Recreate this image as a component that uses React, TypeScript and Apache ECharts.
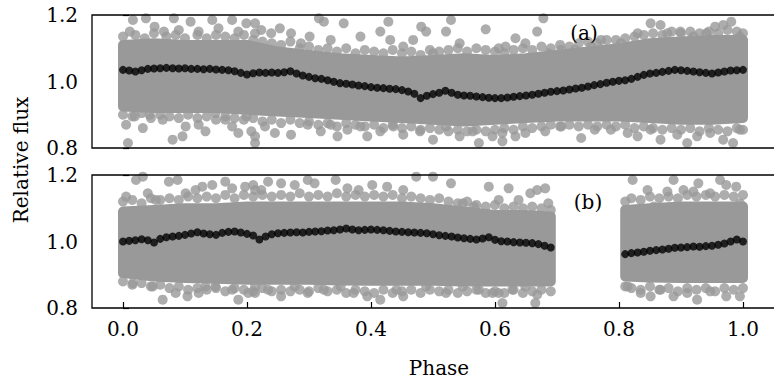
import React, { useEffect, useRef } from "react";
import * as echarts from "echarts";

// ---------- data ----------
// binned light curve, panel (a): phase 0.00 .. 1.00 step 0.01
const topBinStart = 0.0;
const topBinFlux = [
  1.035, 1.033, 1.030, 1.034, 1.038, 1.039, 1.040, 1.041, 1.040, 1.039,
  1.040, 1.038, 1.038, 1.037, 1.038, 1.036, 1.035, 1.034, 1.031, 1.026,
  1.021, 1.025, 1.027, 1.026, 1.027, 1.026, 1.028, 1.031, 1.024, 1.018,
  1.014, 1.010, 1.008, 1.004, 0.999, 0.995, 0.993, 0.991, 0.988, 0.986,
  0.983, 0.981, 0.980, 0.978, 0.977, 0.974, 0.970, 0.963, 0.950, 0.957,
  0.962, 0.966, 0.972, 0.966, 0.960, 0.958, 0.957, 0.955, 0.953, 0.951,
  0.950, 0.950, 0.952, 0.954, 0.956, 0.958, 0.960, 0.963, 0.966, 0.969,
  0.971, 0.973, 0.976, 0.979, 0.981, 0.985, 0.989, 0.992, 0.996, 0.999,
  1.002, 1.004, 1.008, 1.014, 1.020, 1.024, 1.026, 1.029, 1.032, 1.035,
  1.034, 1.032, 1.030, 1.028, 1.026, 1.024, 1.027, 1.030, 1.033, 1.034,
  1.035,
];
// binned light curve, panel (b): two phase ranges, step 0.01
const botBinStartA = 0.0;
const botBinFluxA = [
  1.000, 1.002, 1.004, 1.007, 1.004, 0.997, 1.008, 1.013, 1.015, 1.017,
  1.020, 1.024, 1.028, 1.024, 1.022, 1.020, 1.026, 1.029, 1.030, 1.027,
  1.023, 1.018, 1.006, 1.015, 1.022, 1.025, 1.026, 1.027, 1.028, 1.027,
  1.029, 1.030, 1.031, 1.033, 1.034, 1.036, 1.039, 1.036, 1.034, 1.035,
  1.036, 1.035, 1.034, 1.032, 1.030, 1.029, 1.028, 1.027, 1.026, 1.025,
  1.022, 1.019, 1.017, 1.015, 1.012, 1.010, 1.008, 1.006, 1.009, 1.013,
  1.005, 1.001, 1.000, 0.998, 0.997, 0.996, 0.995, 0.992, 0.987, 0.982,
];
const botBinStartB = 0.81;
const botBinFluxB = [
  0.962, 0.965, 0.967, 0.969, 0.972, 0.974, 0.976, 0.978, 0.981, 0.982,
  0.983, 0.985, 0.984, 0.986, 0.987, 0.990, 0.994, 1.000, 1.006, 1.000,
];
const binStep = 0.01;

// dense core of the unbinned points (envelope of point centres)
const topBandPhase = [0, 0.05, 0.1, 0.15, 0.2, 0.25, 0.3, 0.35, 0.4, 0.45, 0.5, 0.55, 0.6, 0.65, 0.7, 0.75, 0.8, 0.85, 0.9, 0.95, 1.0];
const topBandUpper = [1.11, 1.115, 1.11, 1.11, 1.11, 1.09, 1.08, 1.07, 1.065, 1.06, 1.065, 1.07, 1.065, 1.07, 1.08, 1.09, 1.1, 1.115, 1.12, 1.125, 1.125];
const topBandLower = [0.925, 0.92, 0.92, 0.92, 0.915, 0.91, 0.905, 0.9, 0.895, 0.89, 0.885, 0.88, 0.885, 0.89, 0.895, 0.895, 0.895, 0.89, 0.885, 0.885, 0.89];
const botBandPhaseA = [0, 0.05, 0.1, 0.15, 0.2, 0.25, 0.3, 0.35, 0.4, 0.45, 0.5, 0.55, 0.6, 0.65, 0.69];
const botBandUpperA = [1.09, 1.095, 1.1, 1.1, 1.105, 1.105, 1.105, 1.105, 1.105, 1.105, 1.1, 1.09, 1.08, 1.08, 1.075];
const botBandLowerA = [0.905, 0.895, 0.89, 0.888, 0.885, 0.885, 0.885, 0.883, 0.882, 0.882, 0.882, 0.88, 0.88, 0.88, 0.88];
const botBandPhaseB = [0.81, 0.85, 0.9, 0.95, 1.0];
const botBandUpperB = [1.095, 1.1, 1.105, 1.105, 1.105];
const botBandLowerB = [0.895, 0.892, 0.89, 0.89, 0.89];

// points on the ragged fringe of the dense core [phase, flux]
const topFringe = [
  [0.0, 1.135], [0.02, 1.14], [0.035, 1.13], [0.05, 1.145], [0.07, 1.135], [0.085, 1.14], [0.1, 1.13], [0.12, 1.14],
  [0.135, 1.13], [0.15, 1.14], [0.165, 1.135], [0.18, 1.13], [0.195, 1.14], [0.21, 1.125], [0.225, 1.12], [0.24, 1.115],
  [0.255, 1.11], [0.27, 1.12], [0.285, 1.1], [0.3, 1.105], [0.315, 1.095], [0.33, 1.1], [0.345, 1.09], [0.36, 1.1],
  [0.375, 1.085], [0.39, 1.095], [0.405, 1.09], [0.42, 1.085], [0.435, 1.095], [0.45, 1.085], [0.465, 1.09], [0.48, 1.08],
  [0.495, 1.095], [0.51, 1.09], [0.525, 1.095], [0.54, 1.1], [0.555, 1.09], [0.57, 1.1], [0.585, 1.095], [0.6, 1.09],
  [0.615, 1.085], [0.63, 1.095], [0.645, 1.1], [0.66, 1.095], [0.675, 1.105], [0.69, 1.1], [0.705, 1.11], [0.72, 1.105],
  [0.735, 1.115], [0.75, 1.12], [0.765, 1.115], [0.78, 1.125], [0.795, 1.125], [0.81, 1.13], [0.825, 1.135], [0.84, 1.14],
  [0.855, 1.145], [0.87, 1.14], [0.885, 1.15], [0.9, 1.145], [0.915, 1.15], [0.93, 1.145], [0.945, 1.15], [0.96, 1.145],
  [0.975, 1.155], [0.99, 1.15], [1.0, 1.145],
  [0.0, 0.9], [0.015, 0.895], [0.03, 0.905], [0.045, 0.89], [0.06, 0.9], [0.075, 0.895], [0.09, 0.89], [0.105, 0.9],
  [0.12, 0.89], [0.135, 0.895], [0.15, 0.885], [0.165, 0.895], [0.18, 0.89], [0.195, 0.885], [0.21, 0.89], [0.225, 0.88],
  [0.24, 0.885], [0.255, 0.875], [0.27, 0.885], [0.285, 0.875], [0.3, 0.88], [0.315, 0.87], [0.33, 0.875], [0.345, 0.865],
  [0.36, 0.875], [0.375, 0.87], [0.39, 0.865], [0.405, 0.87], [0.42, 0.86], [0.435, 0.87], [0.45, 0.86], [0.465, 0.865],
  [0.48, 0.855], [0.495, 0.86], [0.51, 0.855], [0.525, 0.85], [0.54, 0.855], [0.555, 0.85], [0.57, 0.855], [0.585, 0.85],
  [0.6, 0.855], [0.615, 0.86], [0.63, 0.855], [0.645, 0.865], [0.66, 0.86], [0.675, 0.865], [0.69, 0.87], [0.705, 0.865],
  [0.72, 0.87], [0.735, 0.865], [0.75, 0.87], [0.765, 0.865], [0.78, 0.87], [0.795, 0.865], [0.81, 0.87], [0.825, 0.86],
  [0.84, 0.865], [0.855, 0.86], [0.87, 0.855], [0.885, 0.86], [0.9, 0.855], [0.915, 0.86], [0.93, 0.85], [0.945, 0.86],
  [0.96, 0.855], [0.975, 0.85], [0.99, 0.86], [1.0, 0.855],
];
const bottomFringe = [
  [0.0, 1.12], [0.015, 1.125], [0.03, 1.115], [0.045, 1.13], [0.06, 1.125], [0.075, 1.13], [0.09, 1.125], [0.105, 1.135],
  [0.12, 1.13], [0.135, 1.135], [0.15, 1.13], [0.165, 1.14], [0.18, 1.13], [0.195, 1.14], [0.21, 1.135], [0.225, 1.14],
  [0.24, 1.135], [0.255, 1.14], [0.27, 1.135], [0.285, 1.145], [0.3, 1.135], [0.315, 1.14], [0.33, 1.135], [0.345, 1.145],
  [0.36, 1.135], [0.375, 1.14], [0.39, 1.135], [0.405, 1.14], [0.42, 1.135], [0.435, 1.14], [0.45, 1.13], [0.465, 1.135],
  [0.48, 1.13], [0.495, 1.125], [0.51, 1.13], [0.525, 1.12], [0.54, 1.115], [0.555, 1.12], [0.57, 1.11], [0.585, 1.105],
  [0.6, 1.11], [0.615, 1.1], [0.63, 1.105], [0.645, 1.1], [0.66, 1.105], [0.675, 1.1], [0.69, 1.095],
  [0.0, 0.88], [0.015, 0.87], [0.03, 0.875], [0.045, 0.865], [0.06, 0.87], [0.075, 0.86], [0.09, 0.865], [0.105, 0.855],
  [0.12, 0.86], [0.135, 0.855], [0.15, 0.86], [0.165, 0.85], [0.18, 0.86], [0.195, 0.855], [0.21, 0.85], [0.225, 0.86],
  [0.24, 0.85], [0.255, 0.855], [0.27, 0.85], [0.285, 0.855], [0.3, 0.85], [0.315, 0.86], [0.33, 0.85], [0.345, 0.855],
  [0.36, 0.845], [0.375, 0.855], [0.39, 0.85], [0.405, 0.845], [0.42, 0.855], [0.435, 0.845], [0.45, 0.85], [0.465, 0.855],
  [0.48, 0.845], [0.495, 0.855], [0.51, 0.85], [0.525, 0.855], [0.54, 0.845], [0.555, 0.85], [0.57, 0.855], [0.585, 0.845],
  [0.6, 0.85], [0.615, 0.845], [0.63, 0.855], [0.645, 0.845], [0.66, 0.85], [0.675, 0.855], [0.69, 0.85],
  [0.81, 1.12], [0.82, 1.13], [0.835, 1.125], [0.85, 1.135], [0.865, 1.13], [0.88, 1.135], [0.895, 1.13], [0.91, 1.14],
  [0.925, 1.135], [0.94, 1.14], [0.955, 1.135], [0.97, 1.14], [0.985, 1.135], [1.0, 1.14],
  [0.81, 0.865], [0.82, 0.86], [0.835, 0.855], [0.85, 0.865], [0.865, 0.855], [0.88, 0.86], [0.895, 0.85], [0.91, 0.86],
  [0.925, 0.855], [0.94, 0.86], [0.955, 0.85], [0.97, 0.86], [0.985, 0.855], [1.0, 0.86],
];

// scattered unbinned points far from the dense core [phase, flux]
const topScatter = [
  [0.011, 1.15], [0.016, 1.185], [0.037, 1.19], [0.051, 1.165], [0.066, 1.15], [0.082, 1.19], [0.09, 1.155],
  [0.109, 1.18], [0.122, 1.15], [0.144, 1.185], [0.154, 1.16], [0.176, 1.185], [0.186, 1.15], [0.199, 1.175], [0.213, 1.145],
  [0.005, 0.87], [0.019, 0.895], [0.032, 0.86], [0.043, 0.9], [0.064, 0.885], [0.008, 0.815], [0.08, 0.825], [0.096, 0.835],
  [0.101, 0.865], [0.122, 0.87], [0.133, 0.85], [0.149, 0.905], [0.165, 0.885], [0.176, 0.865], [0.186, 0.845], [0.199, 0.895],
  [0.207, 0.85], [0.213, 0.815],
  [0.213, 1.175], [0.223, 1.155], [0.239, 1.145], [0.253, 1.16], [0.271, 1.145], [0.287, 1.115], [0.301, 1.135], [0.316, 1.19],
  [0.324, 1.18], [0.335, 1.125], [0.356, 1.175], [0.383, 1.135], [0.415, 1.15], [0.428, 1.18], [0.431, 1.125], [0.452, 1.105],
  [0.468, 1.125], [0.481, 1.165], [0.489, 1.15], [0.5, 1.085], [0.521, 1.15], [0.529, 1.185], [0.543, 1.115], [0.585, 1.157],
  [0.606, 1.1],
  [0.213, 0.835], [0.229, 0.865], [0.245, 0.845], [0.271, 0.84], [0.298, 0.87], [0.319, 0.85], [0.335, 0.87], [0.346, 0.835],
  [0.362, 0.855], [0.383, 0.865], [0.394, 0.835], [0.415, 0.85], [0.436, 0.865], [0.452, 0.84], [0.479, 0.85], [0.5, 0.825],
  [0.521, 0.865], [0.543, 0.835], [0.564, 0.85], [0.574, 0.815], [0.596, 0.835], [0.612, 0.82],
  [0.678, 1.19], [0.668, 1.15], [0.633, 1.13], [0.649, 1.115], [0.617, 1.105], [0.686, 1.085], [0.707, 1.095], [0.729, 1.095],
  [0.755, 1.105], [0.771, 1.125], [0.803, 1.115], [0.83, 1.145], [0.851, 1.175], [0.867, 1.17], [0.878, 1.145], [0.899, 1.15],
  [0.92, 1.135], [0.941, 1.145], [0.955, 1.165], [0.968, 1.17], [0.981, 1.18], [0.995, 1.135],
  [0.612, 0.845], [0.633, 0.835], [0.649, 0.845], [0.681, 0.85], [0.707, 0.865], [0.739, 0.83], [0.761, 0.855], [0.787, 0.855],
  [0.814, 0.845], [0.83, 0.835], [0.851, 0.855], [0.867, 0.825], [0.894, 0.84], [0.91, 0.815], [0.926, 0.835], [0.947, 0.845],
  [0.968, 0.825], [0.984, 0.815], [0.995, 0.855],
];
const bottomScatter = [
  [0.005, 1.135], [0.021, 1.185], [0.032, 1.195], [0.04, 1.145], [0.053, 1.125], [0.074, 1.18], [0.088, 1.185], [0.101, 1.145],
  [0.117, 1.155], [0.128, 1.165], [0.144, 1.17], [0.165, 1.18], [0.176, 1.16], [0.197, 1.165], [0.213, 1.155],
  [0.016, 0.875], [0.048, 0.865], [0.064, 0.825], [0.085, 0.845], [0.104, 0.835], [0.122, 0.845], [0.133, 0.865], [0.149, 0.865],
  [0.176, 0.855], [0.186, 0.825], [0.202, 0.845], [0.213, 0.865],
  [0.21, 1.17], [0.223, 1.155], [0.234, 1.18], [0.255, 1.175], [0.277, 1.17], [0.298, 1.185], [0.309, 1.175], [0.343, 1.185],
  [0.362, 1.16], [0.38, 1.155], [0.402, 1.17], [0.426, 1.165], [0.452, 1.155], [0.473, 1.195], [0.5, 1.195], [0.529, 1.175],
  [0.548, 1.115], [0.566, 1.105], [0.59, 1.165], [0.606, 1.125],
  [0.213, 0.845], [0.234, 0.855], [0.255, 0.835], [0.277, 0.865], [0.298, 0.845], [0.324, 0.855], [0.351, 0.865], [0.372, 0.845],
  [0.394, 0.835], [0.415, 0.825], [0.441, 0.855], [0.452, 0.835], [0.489, 0.865], [0.521, 0.845], [0.548, 0.865], [0.574, 0.855],
  [0.596, 0.845], [0.612, 0.815],
  [0.622, 1.16], [0.638, 1.125], [0.657, 1.145], [0.668, 1.155], [0.681, 1.16], [0.686, 1.115],
  [0.606, 0.845], [0.628, 0.855], [0.649, 0.865], [0.668, 0.84], [0.665, 0.815],
  [0.822, 1.185], [0.846, 1.155], [0.856, 1.105], [0.878, 1.15], [0.888, 1.185], [0.904, 1.155], [0.92, 1.15], [0.928, 1.175],
  [0.947, 1.145], [0.963, 1.185], [0.973, 1.17], [0.989, 1.165], [0.995, 1.115],
  [0.814, 0.865], [0.835, 0.845], [0.851, 0.835], [0.867, 0.855], [0.888, 0.835], [0.91, 0.845], [0.926, 0.825], [0.947, 0.85],
  [0.973, 0.835], [0.995, 0.835],
];

const xTicks = [0, 0.2, 0.4, 0.6, 0.8, 1.0];

// ---------- styling ----------
const GRAY = "#999999";
const FONT = "DejaVu Serif";
const FS = 20;
const DOT = 10;
const LEFT = 92;
const RIGHT = -7;
const TOP1 = 15;
const TOP2 = 175;
const H = 133;
const W = 774 - LEFT - RIGHT;

const bins = (start: number, vals: number[]) =>
  vals.map((v, i) => [+(start + i * binStep).toFixed(3), v]);

const bandItem = (ph: number[], up: number[], lo: number[]) => ({ ph, up, lo });

export default function App() {
  const ref = useRef<HTMLDivElement>(null);
  useEffect(() => {
    if (!ref.current) return;
    const chart = echarts.init(ref.current, undefined, { renderer: "svg" });
    const topBands = [bandItem(topBandPhase, topBandUpper, topBandLower)];
    const botBands = [
      bandItem(botBandPhaseA, botBandUpperA, botBandLowerA),
      bandItem(botBandPhaseB, botBandUpperB, botBandLowerB),
    ];
    const bandSeries = (bands: any[], idx: number) => ({
      type: "custom",
      xAxisIndex: idx,
      yAxisIndex: idx,
      z: 1,
      silent: true,
      data: bands.map((_, i) => [i]),
      renderItem: (params: any, api: any) => {
        const b = bands[params.dataIndex];
        const pts: number[][] = [];
        b.ph.forEach((p: number, k: number) => pts.push(api.coord([p, b.up[k]])));
        for (let k = b.ph.length - 1; k >= 0; k--) pts.push(api.coord([b.ph[k], b.lo[k]]));
        return {
          type: "polygon",
          shape: { points: pts },
          style: { fill: GRAY, stroke: GRAY, lineWidth: DOT, lineJoin: "round" },
        };
      },
    });
    const grayScatter = (data: number[][], idx: number) => ({
      type: "scatter",
      xAxisIndex: idx,
      yAxisIndex: idx,
      z: 2,
      silent: true,
      symbolSize: DOT,
      itemStyle: { color: GRAY },
      data,
    });
    const blackScatter = (data: number[][], idx: number) => ({
      type: "scatter",
      xAxisIndex: idx,
      yAxisIndex: idx,
      z: 3,
      silent: true,
      symbolSize: 8,
      itemStyle: { color: "#000" },
      data,
    });
    const yAxis = (gi: number) => ({
      type: "value",
      gridIndex: gi,
      min: 0.8,
      max: 1.2,
      interval: 0.2,
      axisLine: { show: false },
      splitLine: { show: false },
      axisTick: { show: true, inside: true, length: 6, lineStyle: { color: "#000", width: 1.2 } },
      axisLabel: {
        margin: 14,
        color: "#000",
        fontFamily: FONT,
        fontSize: FS,
        formatter: (v: number) => v.toFixed(1),
      },
    });
    const txt = (text: string, x: number, y: number, extra: any = {}) => ({
      type: "text",
      x,
      y,
      z: 50,
      silent: true,
      ...extra,
      style: {
        text,
        font: `${FS}px "${FONT}"`,
        fill: "#000",
        align: "center",
        verticalAlign: "middle",
      },
    });
    chart.setOption({
      animation: false,
      backgroundColor: "#fff",
      grid: [
        { left: LEFT, right: RIGHT, top: TOP1, height: H },
        { left: LEFT, right: RIGHT, top: TOP2, height: H },
      ],
      xAxis: [
        {
          type: "value",
          gridIndex: 0,
          min: -0.05,
          max: 1.05,
          axisLine: { show: false },
          axisTick: { show: false },
          axisLabel: { show: false },
          splitLine: { show: false },
        },
        {
          type: "value",
          gridIndex: 1,
          min: -0.05,
          max: 1.05,
          axisLine: { show: false },
          splitLine: { show: false },
          axisTick: {
            show: true,
            inside: true,
            length: 6,
            customValues: xTicks,
            lineStyle: { color: "#000", width: 1.2 },
          },
          axisLabel: {
            margin: 11,
            color: "#000",
            fontFamily: FONT,
            fontSize: FS,
            customValues: xTicks,
            formatter: (v: number) => v.toFixed(1),
          },
        },
      ],
      yAxis: [yAxis(0), yAxis(1)],
      series: [
        bandSeries(topBands, 0),
        bandSeries(botBands, 1),
        grayScatter(topFringe, 0),
        grayScatter(bottomFringe, 1),
        grayScatter(topScatter, 0),
        grayScatter(bottomScatter, 1),
        blackScatter(bins(topBinStart, topBinFlux), 0),
        blackScatter([...bins(botBinStartA, botBinFluxA), ...bins(botBinStartB, botBinFluxB)], 1),
      ],
      graphic: [
        {
          type: "rect",
          z: 100,
          silent: true,
          shape: { x: LEFT, y: TOP1, width: W, height: H },
          style: { fill: "none", stroke: "#000", lineWidth: 1.3 },
        },
        {
          type: "rect",
          z: 100,
          silent: true,
          shape: { x: LEFT, y: TOP2, width: W, height: H },
          style: { fill: "none", stroke: "#000", lineWidth: 1.3 },
        },
        txt("Relative flux", 21, 160, { rotation: Math.PI / 2 }),
        txt("Phase", 439, 368),
        txt("(a)", 584, 33),
        txt("(b)", 588, 202),
      ],
    });
    return () => chart.dispose();
  }, []);
  return (
    <div
      ref={ref}
      style={{ position: "fixed", left: 0, top: 0, width: 774, height: 381, background: "#fff" }}
    />
  );
}
